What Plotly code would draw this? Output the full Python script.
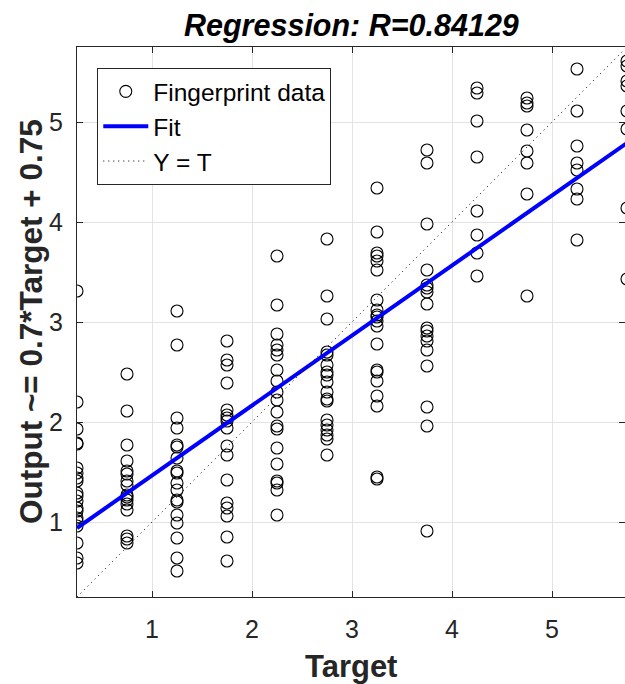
import plotly.graph_objects as go

# ---- data ----
target_levels = [0.25, 0.75, 1.25, 1.75, 2.25, 2.75, 3.25, 3.75, 4.25, 4.75, 5.25, 5.75]

out_025 = [3.31, 2.20, 1.93, 1.79, 1.78, 1.54, 1.49, 1.44, 1.41, 1.29, 1.26, 1.21,
           1.14, 1.11, 1.04, 1.01, 0.96, 0.79, 0.64, 0.59]
out_075 = [2.48, 2.11, 1.77, 1.61, 1.51, 1.48, 1.41, 1.37, 1.27, 1.25, 1.22, 1.18,
           1.12, 0.86, 0.83, 0.79]
out_125 = [3.11, 2.77, 2.04, 1.94, 1.77, 1.75, 1.64, 1.51, 1.49, 1.39, 1.32, 1.22,
           1.20, 1.07, 0.99, 0.84, 0.64, 0.51]
out_175 = [2.81, 2.62, 2.57, 2.39, 2.12, 2.07, 2.04, 2.01, 1.94, 1.76, 1.67, 1.42,
           1.19, 1.14, 1.06, 0.85, 0.61]
out_225 = [3.66, 3.17, 2.88, 2.77, 2.72, 2.67, 2.52, 2.41, 2.30, 2.22, 2.10, 1.96,
           1.93, 1.74, 1.58, 1.41, 1.39, 1.32, 1.07]
out_275 = [3.83, 3.26, 3.03, 2.70, 2.67, 2.57, 2.50, 2.47, 2.40, 2.30, 2.23, 2.21,
           2.02, 1.97, 1.92, 1.87, 1.83, 1.67]
out_325 = [4.34, 3.90, 3.69, 3.66, 3.61, 3.52, 3.22, 3.12, 3.07, 3.05, 3.01, 2.96,
           2.78, 2.52, 2.50, 2.41, 2.26, 2.16, 1.45, 1.43]
out_375 = [4.72, 4.59, 3.98, 3.52, 3.37, 3.34, 3.30, 3.18, 2.94, 2.91, 2.86, 2.81,
           2.72, 2.56, 2.15, 1.96, 0.91]
out_425 = [5.34, 5.29, 5.01, 4.65, 4.11, 3.87, 3.69, 3.46]
out_475 = [5.24, 5.19, 5.16, 4.92, 4.71, 4.59, 4.28, 3.26]
out_525 = [5.53, 5.11, 4.76, 4.59, 4.52, 4.33, 4.23, 3.82]
out_575 = [5.61, 5.56, 5.41, 5.36, 5.11, 4.93, 4.14, 3.43]

outputs_by_target = [out_025, out_075, out_125, out_175, out_225, out_275,
                     out_325, out_375, out_425, out_475, out_525, out_575]

fit_slope = 0.70
fit_intercept = 0.765
r_value = "0.84129"

axis_min, axis_max = 0.25, 5.75
x_ticks = [1, 2, 3, 4, 5]
y_ticks = [1, 2, 3, 4, 5]

# ---- build ----
target = []
output = []
for t, vals in zip(target_levels, outputs_by_target):
    target.extend([t] * len(vals))
    output.extend(vals)

font_family = "Liberation Sans, Arial, Helvetica, sans-serif"
dark = "#262626"

fig = go.Figure()

fig.add_trace(go.Scatter(
    x=target, y=output, mode="markers", name="Fingerprint data",
    marker=dict(symbol="circle-open", size=12, color="black",
                line=dict(color="black", width=1.1)),
))
fit_x = [axis_min, axis_max]
fig.add_trace(go.Scatter(
    x=fit_x, y=[fit_slope * v + fit_intercept for v in fit_x],
    mode="lines", name="Fit", line=dict(color="#0000ff", width=4),
))
fig.add_trace(go.Scatter(
    x=[axis_min, axis_max], y=[axis_min, axis_max], mode="lines", name="Y = T",
    line=dict(color="black", width=1, dash="1px,4px"),
))

axis_common = dict(
    showgrid=True, gridcolor="#e3e3e3", gridwidth=1,
    showline=True, linecolor=dark, linewidth=1, mirror="ticks",
    ticks="inside", ticklen=6, tickcolor=dark, tickwidth=1,
    zeroline=False, automargin=False,
    tickfont=dict(family=font_family, size=25, color=dark),
)

fig.update_layout(
    width=625, height=684,
    margin=dict(l=77, r=0, t=47, b=87, autoexpand=False),
    paper_bgcolor="white", plot_bgcolor="white",
    showlegend=True,
    legend=dict(
        x=0.037, y=0.962, xanchor="left", yanchor="top",
        bgcolor="white", bordercolor=dark, borderwidth=1,
        font=dict(family=font_family, size=24.5, color="black"),
        itemwidth=45, tracegroupgap=0,
    ),
    xaxis=dict(range=[axis_min, 5.73], tickvals=x_ticks, ticklabelstandoff=10,
               **axis_common),
    yaxis=dict(range=[axis_min, axis_max], tickvals=y_ticks, ticklabelstandoff=8,
               **axis_common),
    annotations=[
        dict(text="<b><i>Regression: R=" + r_value + "</i></b>", xref="paper", yref="paper",
             x=0.5, y=1, yshift=22, xanchor="center", yanchor="middle", showarrow=False,
             font=dict(family=font_family, size=30.5, color="black")),
        dict(text="<b>Target</b>", xref="paper", yref="paper",
             x=0.5, y=0, yshift=-69, xanchor="center", yanchor="middle", showarrow=False,
             font=dict(family=font_family, size=31, color=dark)),
        dict(text="<b>Output ~= 0.7*Target + 0.75</b>", xref="paper", yref="paper",
             x=0, y=0.5, xshift=-46, xanchor="center", yanchor="middle", showarrow=False,
             textangle=-90,
             font=dict(family=font_family, size=31.5, color=dark)),
    ],
)

fig.write_html(
    "out.html",
    config={"displayModeBar": False, "staticPlot": True},
    post_script="document.body.style.margin='0px';document.body.style.overflow='hidden';",
)
